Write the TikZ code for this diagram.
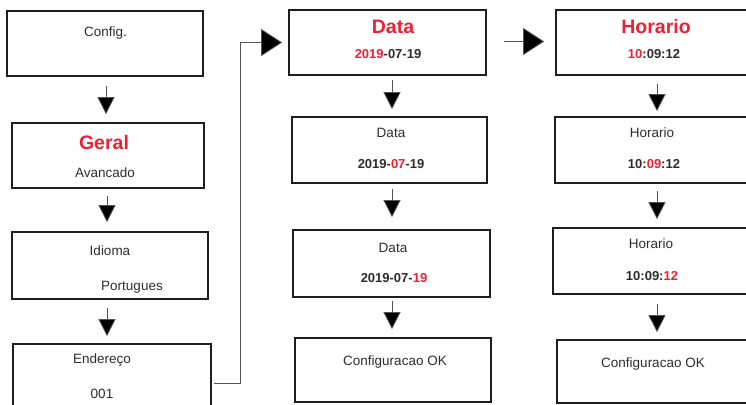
\documentclass[tikz,border=0pt]{standalone}
\usepackage{fontspec}
\setmainfont{Liberation Sans}
\usetikzlibrary{arrows.meta,fit}
\definecolor{hred}{RGB}{240,32,52}
\definecolor{txt}{RGB}{45,45,45}
\definecolor{boxc}{RGB}{30,30,30}
\definecolor{linec}{RGB}{85,85,85}
\tikzset{
  box/.style={draw=boxc, line width=1.7pt, inner sep=0pt, fill=white},
  lbl/.style={anchor=base, inner sep=0pt, text=txt, font=\fontsize{13.5}{15}\selectfont},
  head/.style={anchor=base, inner sep=0pt, text=hred, font=\fontsize{19.5}{22}\selectfont\bfseries},
  num/.style={anchor=base, inner sep=0pt, text=txt, font=\fontsize{13}{15}\selectfont\bfseries},
  varr/.style={draw=linec, line width=0.8pt, -{Triangle[width=17pt,length=17pt,fill=black]}},
  barr/.style={draw=linec, line width=0.8pt, -{Triangle[width=27pt,length=21pt,fill=black]}},
}
\newcommand{\rd}[1]{\textcolor{hred}{#1}}
\begin{document}
\begin{tikzpicture}[x=1pt,y=-1pt]
\useasboundingbox (0,0) rectangle (746,404);
\clip (0,0) rectangle (746,404);
% column 1
\node[box, fit={(7,11)(203,76)}] (cfg) {};
\node[box, fit={(12,123)(204,188)}] (geral) {};
\node[box, fit={(12,232)(208,299)}] (idioma) {};
\node[box, fit={(13,344)(211,420)}] (endr) {};
% column 2
\node[box, fit={(289,10)(486,75)}] (data1) {};
\node[box, fit={(292,117)(487,183)}] (data2) {};
\node[box, fit={(293,230)(490,297)}] (data3) {};
\node[box, fit={(295,338)(491,402)}] (ok2) {};
% column 3
\node[box, fit={(556,10)(760,75)}] (hor1) {};
\node[box, fit={(555,117)(760,183)}] (hor2) {};
\node[box, fit={(553,228)(760,294)}] (hor3) {};
\node[box, fit={(557,340)(760,403)}] (ok3) {};
% texts column 1
\node[lbl] (t1) at (105.5,37) {Config.};
\node[head] (t2) at (104,149) {Geral};
\node[lbl] (t3) at (105,177) {Avancado};
\node[lbl] (t4) at (110,255) {Idioma};
\node[lbl] (t5) at (132,290) {Portugues};
\node[lbl] (t6) at (102,363) {Endereço};
\node[lbl] (t7) at (102,398) {001};
% texts column 2
\node[head] (t8) at (393,34) {Data};
\node[num] (t9) at (388,59) {\rd{2019}-07-19};
\node[lbl] (t10) at (391,137) {Data};
\node[num] (t11) at (391,168) {2019-\rd{07}-19};
\node[lbl] (t12) at (393,252) {Data};
\node[num] (t13) at (394,282) {2019-07-\rd{19}};
\node[lbl] (t14) at (395,365) {Configuracao OK};
% texts column 3
\node[head] (t15) at (656,34) {Horario};
\node[num] (t16) at (654,59) {\rd{10}:09:12};
\node[lbl] (t17) at (652,137) {Horario};
\node[num] (t18) at (654,168) {10:\rd{09}:12};
\node[lbl] (t19) at (651,248) {Horario};
\node[num] (t20) at (652,280) {10:09:\rd{12}};
\node[lbl] (t21) at (653,367) {Configuracao OK};
% vertical arrows column 1
\draw[varr] ([shift={(1,9)}]cfg.south) -- ([shift={(-2,-8)}]geral.north);
\draw[varr] ([shift={(-1,7)}]geral.south) -- ([shift={(-3,-9)}]idioma.north);
\draw[varr] ([shift={(-3,8)}]idioma.south) -- ([shift={(-5,-7)}]endr.north);
% column 2
\draw[varr] ([shift={(4.5,4)}]data1.south) -- ([shift={(2.5,-7)}]data2.north);
\draw[varr] ([shift={(2.5,5)}]data2.south) -- ([shift={(0.5,-12)}]data3.north);
\draw[varr] ([shift={(0.5,3)}]data3.south) -- ([shift={(-1,-8)}]ok2.north);
% column 3
\draw[varr] ([shift={(-1,8)}]hor1.south) -- ([shift={(-0.5,-5)}]hor2.north);
\draw[varr] ([shift={(-0.5,7)}]hor2.south) -- ([shift={(0.5,-8)}]hor3.north);
\draw[varr] ([shift={(0.5,9)}]hor3.south) -- ([shift={(-1.5,-7)}]ok3.north);
% connectors between columns
\draw[barr] ([shift={(2,1)}]endr.east) -- ++(27,0) |- ([shift={(-6,0)}]data1.west);
\draw[barr] ([shift={(17,-1)}]data1.east) -- ([shift={(-11,-1)}]hor1.west);
\end{tikzpicture}
\end{document}
